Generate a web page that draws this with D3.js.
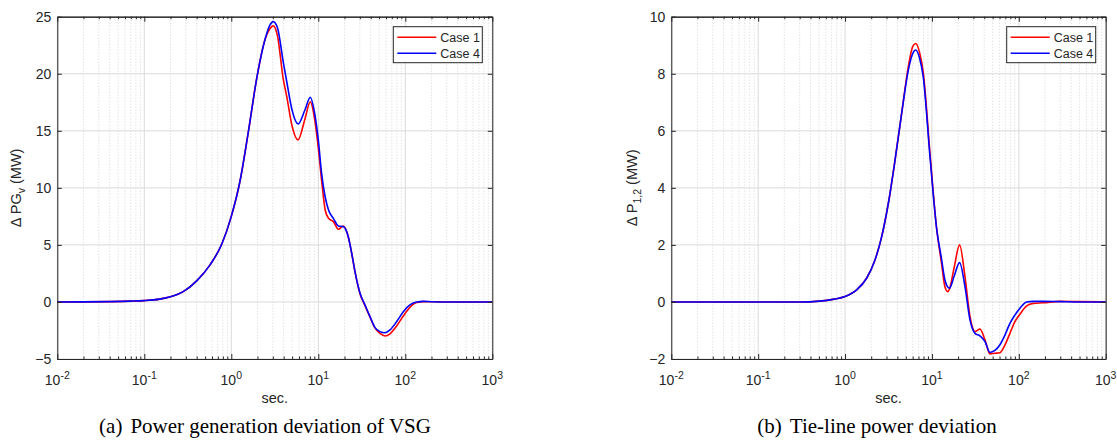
<!DOCTYPE html>
<html>
<head>
<meta charset="utf-8">
<script src="https://cdn.jsdelivr.net/npm/d3@7"></script>
<style>
  html, body { margin: 0; padding: 0; background: #ffffff; }
  svg { display: block; }
</style>
</head>
<body>
<svg id="chart" width="1117" height="441"></svg>
<script>
// ---------------- data ----------------
const seriesNames = ["Case 1", "Case 4"];
const seriesColors = ["#ff0000", "#0000ff"];
const xTickExponents = [-2, -1, 0, 1, 2, 3];
const xAxisLabel = "sec.";

// (a) Power generation deviation of VSG
const leftTime  = [0.01, 0.02, 0.04, 0.07, 0.1, 0.15, 0.2, 0.28, 0.4, 0.57, 0.78, 1.0, 1.26, 1.57, 1.96, 2.44, 2.75, 3.04, 3.4, 3.96, 4.34, 5.0, 5.85, 7.0, 8.1, 9.0, 10, 10.9, 12.0, 13.1, 14.9, 17.0, 19.4, 22.1, 24.2, 26.4, 30.2, 34.4, 39.3, 44.9, 51.2, 58.5, 66.7, 79.6, 94.8, 113, 135, 161, 200, 300, 1000];
const leftCase1 = [0, 0.01, 0.03, 0.07, 0.12, 0.25, 0.45, 0.9, 1.85, 3.25, 5.1, 7.5, 10.6, 14.9, 19.6, 23.0, 23.9, 24.2, 23.3, 19.5, 18.0, 15.4, 14.2, 16.0, 17.55, 16.2, 13.5, 10.7, 8.06, 7.33, 7.04, 6.37, 6.66, 5.72, 4.27, 2.66, 0.70, -0.32, -1.33, -2.3, -2.75, -2.98, -2.8, -2.1, -1.23, -0.47, -0.05, 0.03, 0.02, 0, 0];
const leftCase4 = [0, 0.01, 0.03, 0.07, 0.12, 0.25, 0.45, 0.9, 1.85, 3.25, 5.1, 7.5, 10.6, 14.9, 19.6, 23.0, 24.2, 24.57, 24.0, 21.0, 19.3, 16.8, 15.6, 16.8, 17.94, 16.7, 14.2, 11.3, 9.2, 8.06, 7.33, 6.66, 6.6, 5.72, 4.27, 2.66, 0.76, -0.26, -1.29, -2.25, -2.6, -2.7, -2.45, -1.72, -0.85, -0.26, 0, 0.05, 0.02, 0, 0];
const leftYTicks = [-5, 0, 5, 10, 15, 20, 25];

// (b) Tie-line power deviation
const rightTime  = [0.01, 0.1, 0.3, 0.51, 0.75, 1.0, 1.36, 1.77, 2.21, 2.64, 3.15, 3.76, 4.48, 5.35, 6.0, 6.5, 7.2, 7.94, 9.5, 11.3, 12.9, 14.1, 15.2, 15.9, 18.0, 20.8, 24.0, 27.4, 31.3, 35.7, 40.8, 46.5, 53.1, 60.6, 69.2, 79.0, 90.2, 103, 123, 147, 191, 300, 500, 1000];
const rightCase1 = [0, 0, 0, 0.03, 0.1, 0.19, 0.42, 0.83, 1.47, 2.29, 3.46, 4.97, 6.61, 8.25, 8.95, 9.06, 8.75, 8.05, 5.2, 2.6, 1.35, 0.53, 0.36, 0.45, 1.2, 2.0, 0.89, -0.51, -1.04, -0.95, -1.33, -1.82, -1.8, -1.78, -1.51, -1.1, -0.69, -0.43, -0.14, -0.05, -0.03, 0.02, 0.01, 0];
const rightCase4 = [0, 0, 0, 0.03, 0.1, 0.19, 0.42, 0.83, 1.47, 2.29, 3.46, 4.97, 6.61, 8.13, 8.7, 8.83, 8.55, 7.89, 5.09, 2.6, 1.5, 0.77, 0.52, 0.48, 0.9, 1.38, 0.54, -0.63, -1.1, -1.19, -1.39, -1.77, -1.7, -1.5, -1.16, -0.75, -0.46, -0.22, 0, 0.02, 0.02, 0.01, 0, 0];
const rightYTicks = [-2, 0, 2, 4, 6, 8, 10];

// ---------------- drawing ----------------
const svg = d3.select("#chart");
const axisColor = "#262626";
const sans = "'Liberation Sans', Arial, sans-serif";

function drawPanel(cfg) {
  const g = svg.append("g");
  const x = d3.scaleLog().domain([0.01, 1000]).range([cfg.left, cfg.right]);
  const y = d3.scaleLinear().domain([cfg.yTicks[0], cfg.yTicks[cfg.yTicks.length - 1]]).range([cfg.bottom, cfg.top]);

  const decades = xTickExponents.map(e => Math.pow(10, e));
  const minors = [];
  for (let i = 0; i < decades.length - 1; i++) {
    for (let k = 2; k <= 9; k++) minors.push(decades[i] * k);
  }

  // grid: minor (dotted) x
  g.append("g").selectAll("line").data(minors).join("line")
    .attr("x1", d => x(d)).attr("x2", d => x(d))
    .attr("y1", cfg.top).attr("y2", cfg.bottom)
    .attr("stroke", "#cccccc").attr("stroke-width", 0.8)
    .attr("stroke-dasharray", "1,2");
  // grid: major x
  g.append("g").selectAll("line").data(decades).join("line")
    .attr("x1", d => x(d)).attr("x2", d => x(d))
    .attr("y1", cfg.top).attr("y2", cfg.bottom)
    .attr("stroke", "#dadada").attr("stroke-width", 1);
  // grid: major y
  g.append("g").selectAll("line").data(cfg.yTicks).join("line")
    .attr("x1", cfg.left).attr("x2", cfg.right)
    .attr("y1", d => y(d)).attr("y2", d => y(d))
    .attr("stroke", "#dadada").attr("stroke-width", 1);

  // series
  const line = d3.line()
    .x(d => x(d[0])).y(d => y(d[1]))
    .curve(d3.curveMonotoneX);
  cfg.series.forEach((vals, i) => {
    const pts = cfg.time.map((t, j) => [t, vals[j]]);
    g.append("path").datum(pts)
      .attr("d", line)
      .attr("fill", "none")
      .attr("stroke", seriesColors[i])
      .attr("stroke-width", 1.6)
      .attr("stroke-linejoin", "round");
  });

  // axes box with inward ticks
  const fmtNone = () => "";
  const bottomAxis = d3.axisBottom(x).tickValues(decades).tickSize(-5).tickSizeOuter(0).tickFormat(fmtNone);
  const topAxis = d3.axisTop(x).tickValues(decades).tickSize(-5).tickSizeOuter(0).tickFormat(fmtNone);
  const bottomMinor = d3.axisBottom(x).tickValues(minors).tickSize(-2.5).tickSizeOuter(0).tickFormat(fmtNone);
  const topMinor = d3.axisTop(x).tickValues(minors).tickSize(-2.5).tickSizeOuter(0).tickFormat(fmtNone);
  const leftAxis = d3.axisLeft(y).tickValues(cfg.yTicks).tickSize(-4.5).tickSizeOuter(0).tickFormat(d3.format("d"));
  const rightAxis = d3.axisRight(y).tickValues(cfg.yTicks).tickSize(-4.5).tickSizeOuter(0).tickFormat(fmtNone);

  const axes = [
    [bottomMinor, `translate(0,${cfg.bottom})`],
    [topMinor, `translate(0,${cfg.top})`],
    [bottomAxis, `translate(0,${cfg.bottom})`],
    [topAxis, `translate(0,${cfg.top})`],
    [leftAxis, `translate(${cfg.left},0)`],
    [rightAxis, `translate(${cfg.right},0)`]
  ];
  const axisGroups = axes.map(([ax, tr]) => {
    const ag = g.append("g").attr("transform", tr).call(ax);
    ag.selectAll("path.domain").attr("stroke", axisColor).attr("stroke-width", 1);
    ag.selectAll(".tick line").attr("stroke", axisColor).attr("stroke-width", 1);
    return ag;
  });

  // y tick labels
  axisGroups[4].selectAll(".tick text")
    .attr("x", -6)
    .attr("fill", axisColor)
    .style("font-family", sans)
    .style("font-size", "14px");

  // x tick labels with superscript exponent
  const xl = g.append("g");
  xTickExponents.forEach(e => {
    const t = xl.append("text")
      .attr("x", x(Math.pow(10, e)))
      .attr("y", cfg.bottom + 26)
      .attr("text-anchor", "middle")
      .attr("fill", axisColor)
      .style("font-family", sans)
      .style("font-size", "14px");
    t.append("tspan").text("10");
    t.append("tspan").attr("dy", -6).style("font-size", "10.5px").text(String(e));
  });

  // x axis label
  g.append("text")
    .attr("x", (cfg.left + cfg.right) / 2)
    .attr("y", cfg.bottom + 44)
    .attr("text-anchor", "middle")
    .attr("fill", axisColor)
    .style("font-family", sans)
    .style("font-size", "14.5px")
    .text(xAxisLabel);

  // y axis label
  const yl = g.append("text")
    .attr("transform", `translate(${cfg.yLabelX},${(cfg.top + cfg.bottom) / 2}) rotate(-90)`)
    .attr("text-anchor", "middle")
    .attr("fill", axisColor)
    .style("font-family", sans)
    .style("font-size", "14.5px");
  yl.append("tspan").text(cfg.yLabelMain);
  yl.append("tspan").attr("dy", 4).style("font-size", "10.5px").text(cfg.yLabelSub);
  yl.append("tspan").attr("dy", -4).text(" (MW)");

  // legend
  const lg = g.append("g").attr("transform", `translate(${cfg.right - 99},${cfg.top + 10})`);
  lg.append("rect").attr("x", 0).attr("y", 0).attr("width", 89).attr("height", 36)
    .attr("fill", "#ffffff").attr("stroke", axisColor).attr("stroke-width", 1);
  seriesNames.forEach((name, i) => {
    const yy = 10.5 + i * 16;
    lg.append("line").attr("x1", 4).attr("x2", 43).attr("y1", yy).attr("y2", yy)
      .attr("stroke", seriesColors[i]).attr("stroke-width", 1.6);
    lg.append("text").attr("x", 47).attr("y", yy + 4.5)
      .attr("fill", axisColor)
      .style("font-family", sans)
      .style("font-size", "12.5px")
      .text(name);
  });

  // caption
  const cap = g.append("text")
    .attr("x", cfg.captionX)
    .attr("y", 433)
    .attr("text-anchor", "middle")
    .attr("fill", "#000000")
    .style("font-family", "'Liberation Serif', 'Times New Roman', serif")
    .style("font-size", "21px");
  cap.append("tspan").text(cfg.captionTag);
  cap.append("tspan").attr("dx", 8).text(cfg.captionText);
}

drawPanel({
  left: 57.3, right: 492.3, top: 16.7, bottom: 359,
  yTicks: leftYTicks,
  time: leftTime, series: [leftCase1, leftCase4],
  yLabelX: 21, yLabelMain: "\u0394 PG", yLabelSub: "v",
  captionX: 265, captionTag: "(a)", captionText: "Power generation deviation of VSG"
});

drawPanel({
  left: 671.3, right: 1105.7, top: 16.7, bottom: 359,
  yTicks: rightYTicks,
  time: rightTime, series: [rightCase1, rightCase4],
  yLabelX: 637, yLabelMain: "\u0394 P", yLabelSub: "1,2",
  captionX: 877, captionTag: "(b)", captionText: "Tie-line power deviation"
});
</script>
</body>
</html>
